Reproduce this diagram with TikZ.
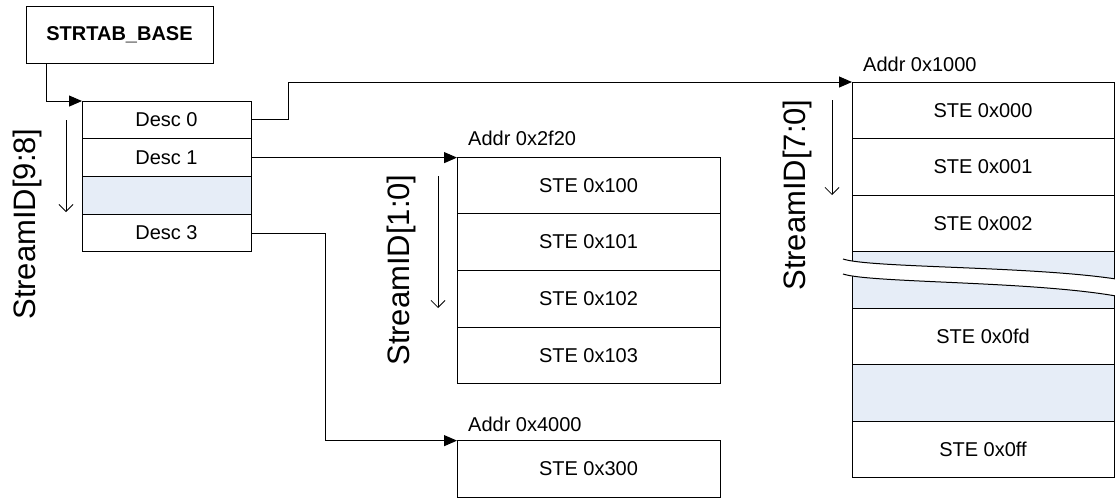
\documentclass[tikz,border=0pt]{standalone}
\usepackage{fontspec}
\setmainfont{Liberation Sans}
\usetikzlibrary{arrows.meta}
\definecolor{cellblue}{RGB}{230,237,247}
\tikzset{
  cell/.style={draw=black, line width=1pt, inner sep=0pt, outer sep=0pt,
    font=\fontsize{20}{24}\selectfont},
  desccell/.style={cell, minimum width=169pt, minimum height=37.75pt},
  midcell/.style={cell, minimum width=263pt, minimum height=56.75pt},
  bigcell/.style={cell, minimum width=262pt, minimum height=56.57pt},
  gap/.style={fill=cellblue},
  conn/.style={draw=black, line width=1pt, -{Triangle[length=13pt,width=11pt]}},
  dirarrow/.style={draw=black, line width=0.8pt, -{Straight Barb[length=7pt,width=14pt]}},
  addrlabel/.style={anchor=west, inner sep=0pt, font=\fontsize{20}{24}\selectfont},
  sidlabel/.style={rotate=90, inner sep=0pt, font=\fontsize{31}{36}\selectfont},
}
\begin{document}
\begin{tikzpicture}[x=1pt, y=-1pt]
\useasboundingbox (0,0) rectangle (1115,498);

% STRTAB_BASE
\node[cell, minimum width=187pt, minimum height=57pt, font=\fontsize{20}{24}\selectfont\bfseries] (sb) at (119.5,34.5) {STRTAB\_BASE};

% Descriptor table
\node[desccell] (d0) at (166.5,119.9) {Desc 0};
\node[desccell] (d1) at (166.5,157.6) {Desc 1};
\node[desccell, gap] (d2) at (166.5,195.4) {};
\node[desccell] (d3) at (166.5,233.1) {Desc 3};

% Middle table
\node[midcell] (m0) at (588.5,185.4) {STE 0x100};
\node[midcell] (m1) at (588.5,242.1) {STE 0x101};
\node[midcell] (m2) at (588.5,298.9) {STE 0x102};
\node[midcell] (m3) at (588.5,355.6) {STE 0x103};

% Bottom box
\node[midcell] (e0) at (588.5,469) {STE 0x300};

% Big table
\node[bigcell] (b0) at (983,110.3) {STE 0x000};
\node[bigcell] (b1) at (983,166.9) {STE 0x001};
\node[bigcell] (b2) at (983,223.4) {STE 0x002};
\node[bigcell, gap] (b3) at (983,280.0) {};
\node[bigcell] (b4) at (983,336.6) {STE 0x0fd};
\node[bigcell, gap] (b5) at (983,393.1) {};
\node[bigcell] (b6) at (983,449.7) {STE 0x0ff};

% Break in the big table
\fill[white] (843,259) .. controls (870,268) and (1030,266) .. (1116,279)
  -- (1116,296) .. controls (1030,281) and (870,283) .. (843,274) -- cycle;
\draw[line width=1pt] (843,259) .. controls (870,268) and (1030,266) .. (1116,279);
\draw[line width=1pt] (843,274) .. controls (870,283) and (1030,281) .. (1116,296);

% Address labels
\node[addrlabel] (a1) at ([shift={(11,-19)}]m0.north west) {Addr 0x2f20};
\node[addrlabel] (a2) at ([shift={(11,-18)}]b0.north west) {Addr 0x1000};
\node[addrlabel] (a3) at ([shift={(11,-16)}]e0.north west) {Addr 0x4000};

% StreamID labels
\node[sidlabel] (s1) at (27,224) {StreamID[9:8]};
\node[sidlabel] (s2) at (401,270) {StreamID[1:0]};
\node[sidlabel] (s3) at (797,195) {StreamID[7:0]};

% Direction arrows
\coordinate (ar1s) at (66,120); \coordinate (ar1e) at (66,212);
\coordinate (ar2s) at (438,176); \coordinate (ar2e) at (438,308);
\coordinate (ar3s) at (832,100); \coordinate (ar3e) at (832,195);
\draw[dirarrow] (ar1s) -- (ar1e);
\draw[dirarrow] (ar2s) -- (ar2e);
\draw[dirarrow] (ar3s) -- (ar3e);

% Connectors
\draw[conn] ([xshift=20pt]sb.south west) |- (d0.north west);
\draw[conn] (d0.east) -- ++(37,0) |- (b0.north west);
\draw[conn] (d1.east) -- (d1.east -| m0.west);
\draw[conn] (d3.east) -- ++(74,0) |- (e0.north west);
\end{tikzpicture}
\end{document}
